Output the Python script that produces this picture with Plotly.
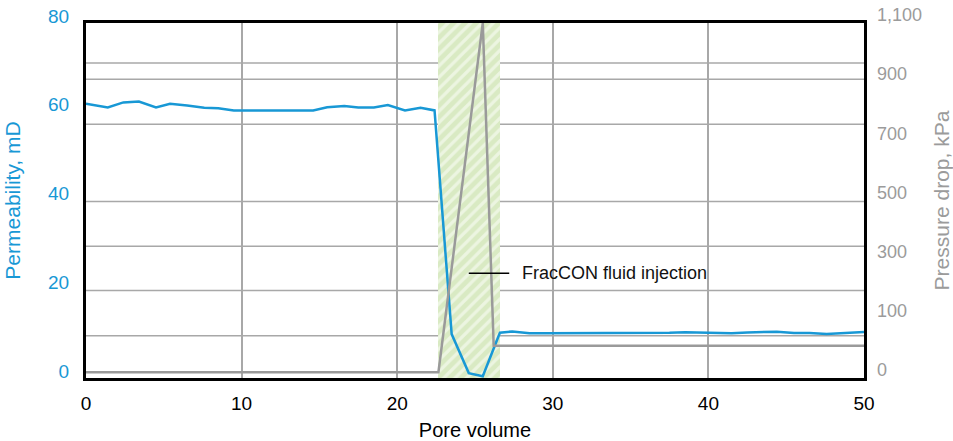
import plotly.graph_objects as go
import numpy as np

# ---------------- data ----------------
PV_PERM = [0, 1.4, 2.4, 3.4, 4.5, 5.4, 6.5, 7.6, 8.5, 9.5, 10.5, 11.5, 12.5, 13.5,
           14.6, 15.5, 16.6, 17.5, 18.5, 19.4, 20.5, 21.5, 22.4, 23.5, 24.6, 25.5,
           26.6, 27.4, 28.5, 29.5, 30.5, 31.5, 32.5, 33.5, 34.5, 35.5, 36.5, 37.5,
           38.5, 39.5, 40.5, 41.5, 42.5, 43.5, 44.4, 45.5, 46.5, 47.6, 48.5, 49.5, 50]
PERMEABILITY = [61.8, 60.95, 62.1, 62.3, 60.95, 61.8, 61.4, 60.9, 60.8, 60.3, 60.3, 60.3, 60.3, 60.3,
                60.3, 61.0, 61.3, 60.95, 60.95, 61.5, 60.3, 60.9, 60.3, 9.9, 1.1, 0.4,
                10.2, 10.5, 10.1, 10.1, 10.1, 10.1, 10.1, 10.15, 10.2, 10.2, 10.15, 10.2,
                10.3, 10.2, 10.15, 10.1, 10.25, 10.3, 10.45, 10.15, 10.15, 9.9, 10.1, 10.3, 10.35]

PV_PRESS = [0, 22.65, 25.5, 26.2, 50]
PRESSURE = [18, 18, 1100, 100, 100]

INJECTION = [22.6, 26.6]          # FracCON fluid injection window (pore volume)
INJECTION_LABEL = "FracCON fluid injection"

X_TICKS = [0, 10, 20, 30, 40, 50]
PERM_TICKS = [0, 20, 40, 60, 80]
PRESS_TICKTEXT = ["0", "100", "300", "500", "700", "900", "1,100"]
GRID_LEVELS = [9.5, 19.7, 29.7, 39.8, 57.2, 67.3, 71.0]   # horizontal grid lines (permeability units)

# ---------------- style ----------------
BLUE = "#1898d5"
GRAY_TXT = "#9b9b9b"
GRAY_LINE = "#9a9a9a"
GRID = "#a8a8a8"
HATCH_BG = "#d9eac3"
FONT = "Liberation Sans, Arial, sans-serif"

PERM_RANGE = [0, 80]
PRESS_RANGE = [0, 1100]

fig = go.Figure()

# hatched injection window
fig.add_trace(go.Bar(
    x=[(INJECTION[0] + INJECTION[1]) / 2], y=[PERM_RANGE[1]], width=[INJECTION[1] - INJECTION[0]],
    base=[PERM_RANGE[0]],
    marker=dict(color=HATCH_BG, line=dict(width=0),
                pattern=dict(shape="/", fgcolor="white", bgcolor=HATCH_BG, size=8, solidity=0.4)),
    showlegend=False, hoverinfo="skip", yaxis="y"))

fig.add_trace(go.Scatter(x=PV_PERM, y=PERMEABILITY, mode="lines",
                         line=dict(color=BLUE, width=2.5), showlegend=False, yaxis="y"))
fig.add_trace(go.Scatter(x=PV_PRESS, y=PRESSURE, mode="lines",
                         line=dict(color=GRAY_LINE, width=2.5), showlegend=False, yaxis="y2"))

for g in GRID_LEVELS:
    fig.add_shape(type="line", xref="paper", x0=0, x1=1, yref="y", y0=g, y1=g,
                  line=dict(color=GRID, width=1.5), layer="below")

# leader line + label
fig.add_shape(type="line", xref="x", yref="y", x0=24.6, x1=27.2, y0=23.6, y1=23.6,
              line=dict(color="black", width=1.5))
fig.add_annotation(x=27.9, y=23.6, xref="x", yref="y", text=INJECTION_LABEL, showarrow=False,
                   xanchor="left", yanchor="middle", font=dict(family=FONT, size=18, color="#111"))

press_tickvals = list(np.linspace(PRESS_RANGE[0], PRESS_RANGE[1], len(PRESS_TICKTEXT)))

fig.update_layout(
    width=953, height=441,
    margin=dict(l=86, r=89, t=23, b=63, autoexpand=False),
    paper_bgcolor="white", plot_bgcolor="white",
    bargap=0,
    xaxis=dict(range=[0, 50], tickvals=X_TICKS, showgrid=True, gridcolor=GRID, gridwidth=1.5,
               showline=True, linecolor="black", linewidth=3, mirror=True, zeroline=False,
               ticks="", ticklabelstandoff=6, automargin=False,
               tickfont=dict(family=FONT, size=19, color="black"),
               title=dict(text="Pore volume", font=dict(family=FONT, size=20, color="black"), standoff=12)),
    yaxis=dict(range=PERM_RANGE, tickvals=PERM_TICKS, showgrid=False, zeroline=False,
               showline=True, linecolor="black", linewidth=3, mirror=True,
               ticks="", ticklabelstandoff=10, ticklabelshift=-7, automargin=False,
               tickfont=dict(family=FONT, size=19, color=BLUE),
               title=dict(text="Permeability, mD", font=dict(family=FONT, size=21, color=BLUE), standoff=22)),
    yaxis2=dict(range=PRESS_RANGE, overlaying="y", side="right", anchor="x",
                tickvals=press_tickvals, ticktext=PRESS_TICKTEXT, showgrid=False, zeroline=False,
                showline=False, ticks="", ticklabelstandoff=12, ticklabelshift=-8, automargin=False,
                tickfont=dict(family=FONT, size=18, color=GRAY_TXT),
                title=dict(text="Pressure drop, kPa", font=dict(family=FONT, size=21, color=GRAY_TXT), standoff=14)),
)

fig.write_html("out.html")
